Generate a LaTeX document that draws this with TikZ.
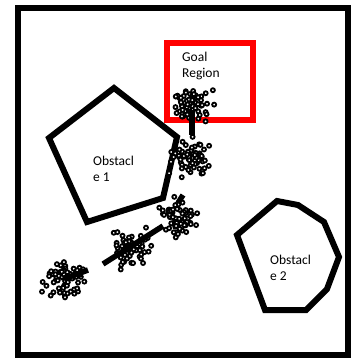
\documentclass[tikz,border=0pt]{standalone}
\usepackage{fontspec}
\setmainfont{Carlito}
\usetikzlibrary{positioning}
\definecolor{GoalRed}{HTML}{FF0000}
\definecolor{InkBlack}{HTML}{000000}
\definecolor{Paper}{HTML}{FFFFFF}

\begin{document}
\begin{tikzpicture}[
    x=1pt, y=-1pt,
    outerframe/.style={draw=InkBlack, line width=5.5pt},
    goalbox/.style={draw=GoalRed, line width=6pt},
    obstacle/.style={draw=InkBlack, line width=6pt, line join=miter},
    branch/.style={draw=InkBlack, line width=5.5pt},
    particle/.style={draw=InkBlack, fill=Paper, line width=1.8pt},
    regionlabel/.style={font=\fontsize{13.5}{16}\selectfont, align=left, inner sep=0pt, anchor=base west, text=InkBlack}
]

\useasboundingbox (0,0) rectangle (350,358);
\fill[Paper] (0,0) rectangle (350,358);
\draw[outerframe] (18,8) rectangle (348,355);

% obstacles
\draw[obstacle] (114,88) -- (177,137) -- (163,198) -- (87,222) -- (49,138) -- cycle;
\draw[obstacle] (277,201) -- (298,205) -- (324,222) -- (339,257) -- (327,289) -- (306,310) -- (265,310) -- (237,235) -- cycle;

% goal region
\draw[goalbox] (167,43) rectangle (253,120);

\node[regionlabel] (goaltext) at (182,78) {Goal\\Region};
\node[regionlabel] (obsonetext) at (93,181) {Obstacl\\e 1};
\node[regionlabel] (obstwotext) at (270,280) {Obstacl\\e 2};

% particle clouds
\coordinate (cA) at (64,279);
\coordinate (cB) at (131,249);
\coordinate (cC) at (179,217);
\coordinate (cD) at (188,157);
\coordinate (cE) at (192,103);

\coordinate (tipA) at (88,270);
\coordinate (tailB) at (103,264);
\coordinate (tipB) at (163,226);
\coordinate (tailC) at (178,203);
\coordinate (tipC) at (183,195);
\coordinate (tailD) at (192,135);
\coordinate (tipD) at (192,110);

\pgfmathsetseed{4242}
\foreach \c in {cA,cB,cC,cD,cE} {
  \foreach \k in {1,...,70} {
    \pgfmathsetmacro\dx{9*(rand+rand+rand)}
    \pgfmathsetmacro\dy{8.5*(rand+rand+rand)}
    \draw[particle, shift={(\c)}] (\dx,\dy) circle (2.0);
  }
}

% tree branches
\draw[branch] (cA) -- (tipA);
\draw[branch] (tailB) -- (tipB);
\draw[branch] (tailC) -- (tipC);
\draw[branch] (tailD) -- (tipD);

\end{tikzpicture}
\end{document}
